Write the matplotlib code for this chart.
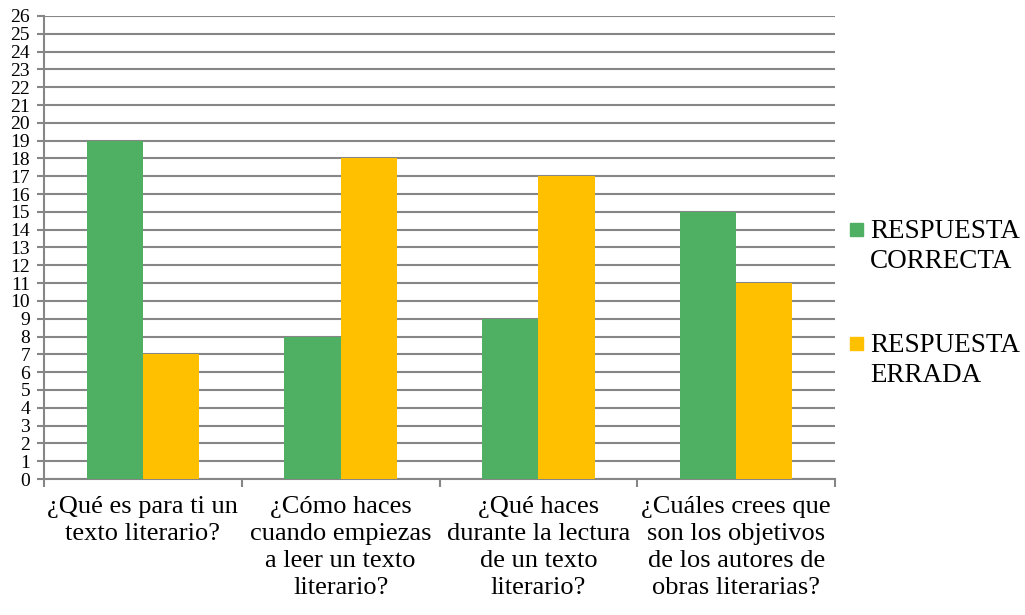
import numpy as np
import matplotlib.pyplot as plt
from matplotlib.patches import Rectangle

categories = ['¿Qué es para ti un\ntexto literario?',
              '¿Cómo haces\ncuando empiezas\na leer un texto\nliterario?',
              '¿Qué haces\ndurante la lectura\nde un texto\nliterario?',
              '¿Cuáles crees que\nson los objetivos\nde los autores de\nobras literarias?']
correcta = [19, 8, 9, 15]
errada = [7, 18, 17, 11]
series_names = [['RESPUESTA', 'CORRECTA'], ['RESPUESTA', 'ERRADA']]
colors = ['#4FAF62', '#FFC000']

plt.rcParams['font.family'] = ['Liberation Serif', 'DejaVu Serif']

W, H = 1025, 615
fig = plt.figure(figsize=(W/100, H/100), dpi=100)
ax = fig.add_axes([44/W, 1 - 479/H, (835-44)/W, (479-16)/H])

x = np.arange(len(categories))
w = 0.285
ax.bar(x - w/2, correcta, w, color=colors[0], zorder=3)
ax.bar(x + w/2, errada, w, color=colors[1], zorder=3)

ax.set_xlim(-0.5, len(categories) - 0.5)
ax.set_ylim(0, 26)
ax.set_yticks(range(0, 27))
ax.tick_params(axis='y', labelsize=14, length=5, width=1.5, color='#868686', pad=5)
ax.yaxis.grid(True, color='#868686', linewidth=1.5, zorder=0)

# category separators as major ticks, labels on minor ticks
ax.set_xticks(np.arange(-0.5, len(categories), 1))
ax.set_xticklabels([])
ax.set_xticks(x, minor=True)
ax.set_xticklabels(categories, minor=True, fontsize=19, linespacing=1.3)
ax.tick_params(axis='x', which='major', length=6, width=1.5, color='#868686')
ax.tick_params(axis='x', which='minor', length=0, pad=12)

for s in ['top', 'right']:
    ax.spines[s].set_visible(False)
for s in ['left', 'bottom']:
    ax.spines[s].set_color('#868686')
    ax.spines[s].set_linewidth(1.5)

# legend drawn by hand: square next to the first line of each label
base_y = [238, 352]
for i, lines in enumerate(series_names):
    y0 = base_y[i]
    fig.patches.append(Rectangle((850/W, 1 - (y0 - 2)/H), 13/W, 13/H,
                                 transform=fig.transFigure, color=colors[i]))
    for j, t in enumerate(lines):
        fig.text(870/W, 1 - (y0 + 30*j)/H, t, fontsize=19.5, va='baseline', ha='left')

fig.savefig('out.png', dpi=100)
